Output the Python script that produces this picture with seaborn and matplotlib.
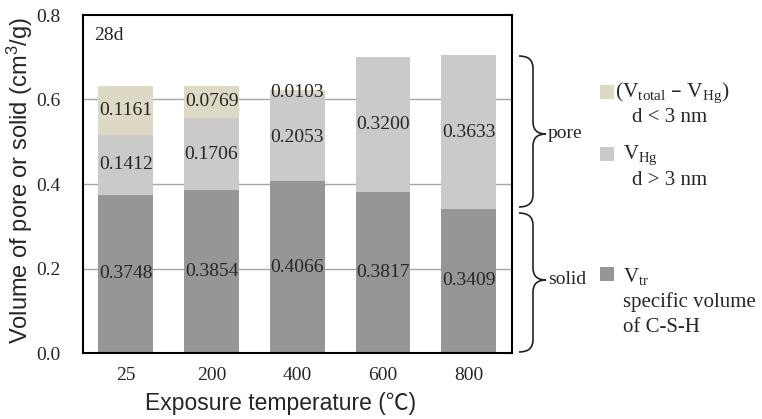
import matplotlib
matplotlib.use('Agg')
import matplotlib.pyplot as plt
from matplotlib.path import Path
from matplotlib.patches import PathPatch, Rectangle
import seaborn as sns

temps = ['25', '200', '400', '600', '800']
v_tr = [0.3748, 0.3854, 0.4066, 0.3817, 0.3409]
v_hg = [0.1412, 0.1706, 0.2053, 0.3200, 0.3633]
v_small = [0.1161, 0.0769, 0.0103, 0.0, 0.0]
yticks = [0.0, 0.2, 0.4, 0.6, 0.8]

c_tr = '#969696'
c_hg = '#cacaca'
c_small = '#ddd9c4'

W, H = 762, 419

sns.set_style('white')
plt.rcParams['font.family'] = ['Liberation Serif', 'DejaVu Serif']
plt.rcParams['mathtext.default'] = 'regular'

fig = plt.figure(figsize=(W / 100, H / 100), dpi=100)
ax = fig.add_axes([83 / W, 66 / H, (511.5 - 83) / W, (353 - 15) / H])

mid = [a + b for a, b in zip(v_tr, v_hg)]
total = [a + b for a, b in zip(mid, v_small)]

# grid lines behind the bars
for t in yticks[1:-1]:
    ax.axhline(t, color='#a6a6a6', linewidth=1, zorder=0.8)

# overlapping bars -> stacked look
sns.barplot(x=temps, y=total, color=c_small, width=0.64, saturation=1, linewidth=0, ax=ax, zorder=2)
sns.barplot(x=temps, y=mid, color=c_hg, width=0.64, saturation=1, linewidth=0, ax=ax, zorder=2.1)
sns.barplot(x=temps, y=v_tr, color=c_tr, width=0.64, saturation=1, linewidth=0, ax=ax, zorder=2.2)

for i in range(len(temps)):
    ax.text(i, v_tr[i] / 2, '%.4f' % v_tr[i], ha='center', va='center', fontsize=14, zorder=3)
    ax.text(i, v_tr[i] + v_hg[i] / 2, '%.4f' % v_hg[i], ha='center', va='center', fontsize=14, zorder=3)
    if v_small[i] > 0:
        ax.text(i, mid[i] + v_small[i] / 2, '%.4f' % v_small[i], ha='center', va='center',
                fontsize=14, zorder=3)

ax.grid(False)
ax.set_ylim(0, 0.8)
ax.set_xlim(-0.5, 4.5)
ax.set_yticks(yticks)
ax.set_yticklabels(['%.1f' % t for t in yticks])
ax.tick_params(axis='both', length=0, labelsize=14)
ax.tick_params(axis='x', pad=10)
ax.tick_params(axis='y', pad=16)
for s in ax.spines.values():
    s.set_color('black')
    s.set_linewidth(1.5)
    s.set_zorder(4)

sans = ['Liberation Sans', 'Noto Sans CJK JP', 'DejaVu Sans']
ax.set_xlabel('Exposure temperature (℃)', family=sans, fontsize=16.5)
ax.xaxis.set_label_coords(0.46, -0.115)
ax.set_ylabel('Volume of pore or solid (cm$^3$/g)', family=sans, fontsize=17)
ax.yaxis.set_label_coords(-0.112, 0.51)

ax.text(0.025, 0.965, '28d', transform=ax.transAxes, fontsize=14, va='top', ha='left')


def px(x, y):
    return (x / W, 1 - y / H)


def brace(x_end, x_mid, x_tip, y_top, y_bot, y_tip, r=12):
    pts = [(x_end, y_top), (x_mid, y_top), (x_mid, y_top + r),
           (x_mid, y_tip - r), (x_mid, y_tip), (x_tip, y_tip),
           (x_mid, y_tip), (x_mid, y_tip + r),
           (x_mid, y_bot - r), (x_mid, y_bot), (x_end, y_bot)]
    codes = [Path.MOVETO, Path.CURVE3, Path.CURVE3,
             Path.LINETO, Path.CURVE3, Path.CURVE3,
             Path.CURVE3, Path.CURVE3,
             Path.LINETO, Path.CURVE3, Path.CURVE3]
    path = Path([px(*p) for p in pts], codes)
    fig.patches.append(PathPatch(path, fill=False, edgecolor='#222222', linewidth=1.2,
                                 transform=fig.transFigure))


brace(519, 533, 546, 56, 207, 134)
brace(519, 533, 546, 213, 352, 280)
fig.text(*px(548, 134), 'pore', fontsize=14, va='center', ha='left')
fig.text(*px(548, 280), 'solid', fontsize=14, va='center', ha='left')

# legend squares and labels
for y0, col in [(85, c_small), (147, c_hg), (267, c_tr)]:
    x0, y1 = px(600, y0 + 14)
    fig.patches.append(Rectangle((x0, y1), 14 / W, 14 / H, facecolor=col, edgecolor='none',
                                 transform=fig.transFigure))

fig.text(*px(615, 93), '(V$_{total}$ – V$_{Hg}$)', fontsize=15.5, va='center', ha='left')
fig.text(*px(632, 117), 'd < 3 nm', fontsize=15, va='center', ha='left')
fig.text(*px(623, 155), 'V$_{Hg}$', fontsize=15, va='center', ha='left')
fig.text(*px(632, 180), 'd > 3 nm', fontsize=15, va='center', ha='left')
fig.text(*px(623, 276), 'V$_{tr}$', fontsize=15, va='center', ha='left')
fig.text(*px(623, 302), 'specific volume', fontsize=15, va='center', ha='left')
fig.text(*px(623, 327), 'of C-S-H', fontsize=15, va='center', ha='left')

fig.savefig('out.png', dpi=100)
